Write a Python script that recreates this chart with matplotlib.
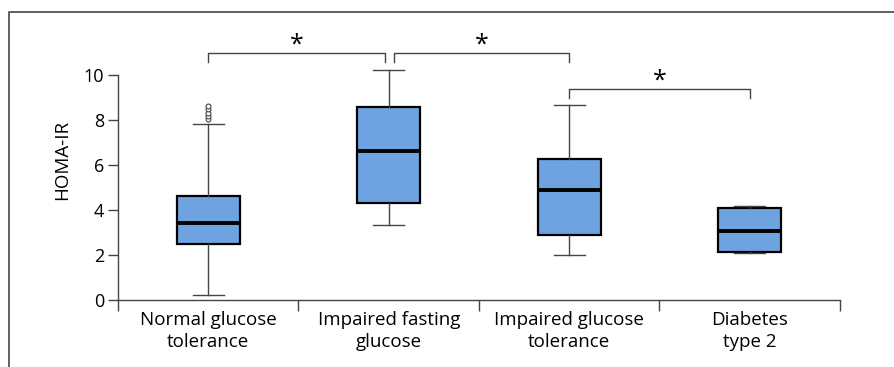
import numpy as np
import matplotlib
matplotlib.use('Agg')
import matplotlib.pyplot as plt
from matplotlib.lines import Line2D

plt.rcParams['font.family'] = ['Open Sans', 'DejaVu Sans']

# box plot data
groups = ["Normal glucose\ntolerance", "Impaired fasting\nglucose",
          "Impaired glucose\ntolerance", "Diabetes\ntype 2"]
whislo = [0.22, 3.35, 2.02, 2.08]
q1 = [2.5, 4.3, 2.9, 2.12]
med = [3.45, 6.65, 4.92, 3.09]
q3 = [4.65, 8.6, 6.28, 4.12]
whishi = [7.82, 10.25, 8.68, 4.17]
fliers = [[8.05, 8.2, 8.35, 8.5, 8.65], [], [], []]

# significance brackets: (start, end, height, leg drop)
brackets = [(1.0, 1.98, 11.0, 0.4), (2.03, 3.0, 11.0, 0.4), (3.0, 4.0, 9.4, 0.4)]

fig = plt.figure(figsize=(8.95, 3.67), dpi=100)
ax = fig.add_axes([118 / 895, 1 - 300 / 367, (840 - 118) / 895, 280 / 367])

stats = []
for i in range(len(groups)):
    stats.append({'whislo': whislo[i], 'q1': q1[i], 'med': med[i], 'q3': q3[i],
                  'whishi': whishi[i], 'fliers': fliers[i]})

ax.bxp(stats, positions=[1, 2, 3, 4], widths=0.35, patch_artist=True, showfliers=True,
       boxprops=dict(facecolor='#6EA3E1', edgecolor='black', linewidth=1.6),
       medianprops=dict(color='black', linewidth=2.8),
       whiskerprops=dict(color='#444444', linewidth=1.0),
       capprops=dict(color='#444444', linewidth=1.0),
       capwidths=0.17,
       flierprops=dict(marker='o', markersize=3.5, markerfacecolor='white',
                       markeredgecolor='#444444', markeredgewidth=0.8))

ax.set_xlim(0.5, 4.5)
ax.set_ylim(0, (300 - 20) / 22.45)
ax.spines['top'].set_visible(False)
ax.spines['right'].set_visible(False)
ax.spines['left'].set_bounds(0, 10)
for s in ['left', 'bottom']:
    ax.spines[s].set_color('#444444')
    ax.spines[s].set_linewidth(1.0)

ax.set_yticks([0, 2, 4, 6, 8, 10])
ax.tick_params(axis='y', direction='out', length=7, width=1.0, color='#444444',
               labelsize=13, pad=3)
ax.set_xticks([0.5, 1.5, 2.5, 3.5, 4.5])
ax.set_xticklabels([])
ax.set_xticks([1, 2, 3, 4], minor=True)
ax.set_xticklabels(groups, minor=True, fontsize=13.5, linespacing=1.25)
ax.tick_params(axis='x', which='major', direction='out', length=8, width=1.0, color='#444444')
ax.tick_params(axis='x', which='minor', length=0, pad=8)
ax.set_ylabel("HOMA-IR", fontsize=13.5, labelpad=9)

for x0, x1, y, d in brackets:
    ax.plot([x0, x0, x1, x1], [y - d, y, y, y - d], color='#444444', lw=1.0, clip_on=False)
    ax.text((x0 + x1) / 2, y - 0.2, "*", ha='center', va='bottom', fontsize=18)

# figure frame (left and top edges)
fig.add_artist(Line2D([9 / 895, 9 / 895, 1], [0, 1 - 12 / 367, 1 - 12 / 367],
                      transform=fig.transFigure, color='#555555', lw=1.3))

fig.savefig('out.png', dpi=100)
